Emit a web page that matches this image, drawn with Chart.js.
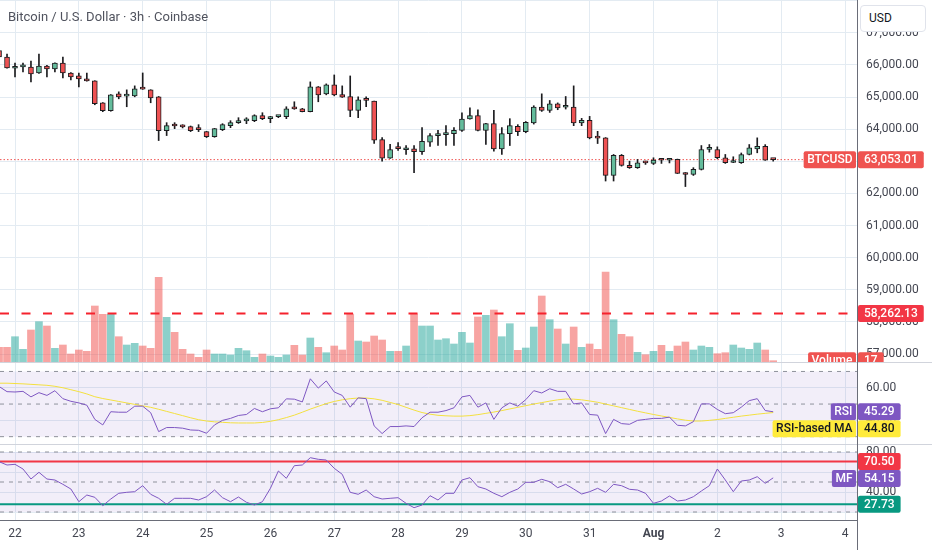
<!DOCTYPE html>
<html>
<head>
<meta charset="utf-8">
<script src="https://cdn.jsdelivr.net/npm/chart.js@4.4.1/dist/chart.umd.min.js"></script>
<style>
  html, body { margin: 0; padding: 0; background: #fff; }
  #wrap { position: relative; width: 932px; height: 550px; overflow: hidden; background: #fff; font-family: Roboto, sans-serif; }
  #wrap canvas { position: absolute; left: 0; }
  #title { position: absolute; left: 8px; top: 9px; font-size: 13px; color: #50535e; white-space: nowrap; }
  #usd { position: absolute; left: 860px; top: 5px; width: 66px; height: 27px; box-sizing: border-box; border: 1px solid #e0e3eb; border-radius: 4px; background: #fff; font-size: 12px; color: #131722; line-height: 25px; padding-left: 8px; }
</style>
</head>
<body>
<div id="wrap">
  <canvas id="main" width="932" height="362" style="top:0px"></canvas>
  <canvas id="rsi" width="932" height="82" style="top:362px"></canvas>
  <canvas id="mf" width="932" height="106" style="top:444px"></canvas>
  <div id="title">Bitcoin / U.S. Dollar · 3h · Coinbase</div>
  <div id="usd">USD</div>
</div>
<script>
// 3h bars, first one is 21 Jul 18:00, day ticks every 8 bars
var firstBar = -2;
var barsPerDay = 8;
var dayLabels = ['22', '23', '24', '25', '26', '27', '28', '29', '30', '31', 'Aug', '2', '3', '4'];

var open = [66450, 66248, 65900, 65940, 65938, 65752, 65969, 65876, 66062, 65752,
  65659, 65566, 65505, 64824, 64576, 65102, 65030, 65040, 65257, 65226,
  65009, 63957, 64111, 64080, 64080, 63990, 63926, 63771, 63988, 64111,
  64204, 64260, 64266, 64421, 64328, 64390, 64390, 64640, 64638, 64545,
  65319, 65102, 65381, 65081, 65019, 64585, 64905, 64876, 63678, 63099,
  63400, 63360, 63390, 63297, 63594, 63800, 63830, 63864, 63966, 64319,
  64421, 63966, 64173, 63390, 63864, 64090, 63926, 64195, 64690, 64585,
  64793, 64685, 64690, 64195, 64276, 63730, 63731, 62563, 63183, 62873,
  62802, 62957, 62935, 63040, 63035, 63059, 62640, 62590, 62749, 63370,
  63368, 63111, 62965, 62957, 63214, 63390, 63470, 63060];
var high = [66520, 66340, 66062, 66062, 66124, 66340, 65990, 66070, 66248, 65760,
  65752, 65752, 65510, 64830, 65080, 65164, 65226, 65350, 65752, 65230,
  65020, 64204, 64204, 64140, 64100, 64142, 63930, 64025, 64173, 64266,
  64359, 64359, 64450, 64514, 64400, 64420, 64700, 64855, 64650, 65474,
  65330, 65412, 65690, 65350, 65659, 65009, 65009, 64880, 63740, 63532,
  63585, 63492, 63492, 64050, 63864, 63966, 64111, 64050, 64514, 64669,
  64607, 64180, 64585, 64050, 64328, 64142, 64240, 64731, 65102, 64895,
  64820, 65019, 65350, 64338, 64400, 63935, 63740, 63214, 63214, 63006,
  63059, 63006, 63111, 63080, 63080, 63070, 62650, 62802, 63492, 63523,
  63451, 63214, 63142, 63260, 63523, 63731, 63520, 63080];
var low = [66200, 65900, 65628, 65783, 65474, 65740, 65628, 65783, 65597, 65536,
  65319, 65500, 64762, 64545, 64560, 64947, 64700, 65009, 65240, 64824,
  63647, 63802, 64018, 64040, 63926, 63926, 63740, 63750, 63957, 64049,
  64180, 64173, 64235, 64297, 64204, 64360, 64328, 64620, 64540, 64540,
  64855, 65071, 65040, 64990, 64390, 64359, 64700, 63554, 63006, 63090,
  63340, 63214, 62647, 63214, 63461, 63492, 63492, 63492, 63930, 64310,
  63946, 63523, 63316, 63214, 63492, 63802, 63890, 64160, 64554, 64523,
  64607, 64628, 64111, 64111, 63700, 63554, 62387, 62387, 62850, 62780,
  62780, 62904, 62900, 62935, 62950, 62620, 62214, 62560, 62730, 63285,
  63080, 62935, 62960, 62935, 63200, 63266, 63030, 63006];
var close = [66250, 65907, 65910, 65955, 65721, 65969, 65876, 66062, 65752, 65628,
  65566, 65505, 64793, 64576, 65071, 65009, 65040, 65257, 65250, 64978,
  63957, 64111, 64100, 64075, 63957, 63985, 63771, 64018, 64142, 64204,
  64266, 64266, 64421, 64328, 64390, 64395, 64638, 64635, 64545, 65319,
  65071, 65381, 65071, 65000, 64585, 64916, 64900, 63656, 63099, 63368,
  63395, 63380, 63297, 63625, 63802, 63805, 63835, 63966, 64319, 64421,
  63966, 64173, 63390, 63864, 64111, 63926, 64214, 64690, 64585, 64793,
  64660, 64690, 64195, 64276, 63731, 63725, 62563, 63183, 62873, 62802,
  62957, 62950, 63037, 63035, 63040, 62625, 62590, 62749, 63368, 63390,
  63111, 62957, 62975, 63214, 63421, 63470, 63037, 63053.01];
var volume = [191, 191, 329, 165, 416, 524, 468, 178, 221, 104,
  156, 139, 728, 620, 620, 329, 221, 243, 208, 178,
  1101, 581, 386, 165, 104, 61, 156, 104, 104, 91,
  178, 147, 61, 104, 78, 61, 91, 217, 91, 312,
  191, 121, 208, 156, 624, 273, 260, 338, 286, 139,
  139, 208, 624, 468, 468, 286, 303, 234, 386, 247,
  585, 607, 676, 329, 498, 152, 182, 455, 858, 550,
  429, 234, 455, 191, 234, 165, 1170, 550, 360, 329,
  126, 95, 139, 217, 139, 208, 260, 156, 208, 191,
  108, 121, 221, 182, 165, 247, 156, 17];
var rsi = [60.8, 57.6, 57.4, 57.8, 54.4, 57.0, 55.3, 58.2, 53.3, 51.7,
  50.7, 49.3, 40.6, 37.2, 45.3, 45.0, 45.0, 48.7, 48.7, 44.7,
  33.1, 35.6, 35.6, 35.2, 34.1, 33.9, 32.1, 37.2, 40.0, 41.2,
  43.0, 43.6, 47.3, 45.3, 47.1, 47.7, 53.2, 53.0, 51.3, 65.5,
  59.8, 64.2, 57.4, 55.3, 48.1, 53.8, 53.3, 36.6, 31.9, 36.2,
  36.2, 36.6, 36.2, 41.6, 45.0, 45.0, 46.0, 47.7, 54.4, 55.3,
  48.1, 50.7, 40.6, 47.7, 50.7, 48.7, 52.7, 58.2, 56.8, 59.4,
  57.8, 57.8, 50.1, 50.7, 43.6, 43.2, 31.9, 40.6, 38.0, 37.6,
  40.0, 40.6, 41.2, 41.2, 42.0, 37.0, 36.6, 39.2, 50.1, 50.1,
  46.7, 44.1, 44.7, 48.1, 52.1, 53.3, 46.0, 45.29];
var rsiMa = [62.8, 62.8, 62.6, 62.4, 62.1, 61.8, 61.5, 60.9, 60.0, 58.8,
  57.6, 56.2, 54.5, 53.4, 52.5, 51.6, 50.7, 49.8, 48.9, 48.0,
  46.8, 45.5, 44.2, 42.9, 41.6, 40.4, 39.6, 39.1, 38.8, 38.5,
  38.4, 38.4, 38.4, 38.7, 39.4, 40.4, 41.7, 43.2, 45.0, 46.9,
  48.6, 50.3, 51.6, 52.6, 53.3, 53.7, 53.7, 53.2, 52.3, 51.0,
  49.7, 48.0, 46.3, 44.8, 43.8, 43.1, 42.8, 42.6, 42.6, 42.9,
  43.5, 44.3, 45.1, 46.0, 47.0, 48.0, 49.0, 50.0, 50.9, 51.8,
  52.6, 53.1, 53.0, 52.6, 51.9, 51.1, 50.0, 48.9, 47.8, 46.7,
  45.6, 44.6, 43.6, 42.7, 41.8, 40.9, 40.1, 39.6, 39.6, 40.0,
  40.5, 41.2, 41.9, 42.6, 43.2, 43.8, 44.3, 44.8];
var mfi = [70.3, 67.0, 67.7, 63.0, 53.0, 59.7, 53.0, 52.0, 47.7, 43.0,
  30.3, 37.0, 34.7, 26.3, 33.0, 38.7, 39.7, 40.3, 46.3, 37.7,
  33.7, 27.7, 33.7, 33.7, 33.7, 32.0, 35.3, 42.0, 34.3, 30.3,
  35.0, 29.7, 27.0, 30.3, 43.7, 61.0, 53.7, 66.3, 67.0, 74.3,
  72.7, 72.0, 63.7, 57.7, 39.7, 37.7, 42.0, 35.3, 33.0, 33.7,
  34.3, 28.7, 24.3, 27.0, 36.3, 32.0, 38.7, 38.7, 52.0, 54.3,
  45.3, 43.0, 38.7, 35.3, 39.7, 43.0, 49.7, 49.7, 52.7, 50.3,
  44.3, 47.7, 43.0, 38.0, 40.3, 43.7, 39.7, 47.7, 46.3, 42.7,
  42.0, 38.7, 28.7, 31.0, 36.0, 31.0, 32.0, 35.3, 41.0, 46.3,
  63.0, 52.0, 40.3, 51.0, 52.0, 55.3, 48.7, 54.15];

var lastPrice = 63053.01;
var alertPrice = 58262.13;
var mfUpper = 70.50;
var mfLower = 27.73;
var priceTicks = [57000, 58000, 59000, 60000, 61000, 62000, 63000, 64000, 65000, 66000, 67000, 68000];
var rsiTicks = [40, 60];
var mfTicks = [20, 40, 60, 80];

var xMin = -1.88, xMax = 105.5;
var FONT = 'Roboto';
var GRID = '#e3ebf2';
var AXIS_TEXT = '#434651';
var UP = '#64bc9c', DOWN = '#ee5253';
var VOL_UP = 'rgba(38,166,154,0.53)', VOL_DOWN = 'rgba(239,83,80,0.53)';
var DASH_GREY = '#8f929b';

function fmt(v) { return v.toLocaleString('en-US', { minimumFractionDigits: 2, maximumFractionDigits: 2 }); }
function pts(arr) { return arr.map(function (v, i) { return { x: firstBar + i, y: v }; }); }
function level(v) { return [{ x: xMin, y: v }, { x: xMax, y: v }]; }
var isUp = close.map(function (c, i) { return c >= open[i]; });

function roundBox(ctx, x, y, w, h, fill) {
  var r = 2;
  ctx.fillStyle = fill;
  ctx.beginPath();
  ctx.moveTo(x + r, y);
  ctx.lineTo(x + w - r, y); ctx.quadraticCurveTo(x + w, y, x + w, y + r);
  ctx.lineTo(x + w, y + h - r); ctx.quadraticCurveTo(x + w, y + h, x + w - r, y + h);
  ctx.lineTo(x + r, y + h); ctx.quadraticCurveTo(x, y + h, x, y + h - r);
  ctx.lineTo(x, y + r); ctx.quadraticCurveTo(x, y, x + r, y);
  ctx.fill();
}

// pane separator, price-axis divider and the coloured value tags on the axis
var panePlugin = {
  id: 'pane',
  afterDraw: function (chart, args, opts) {
    var ctx = chart.ctx, a = chart.chartArea;
    ctx.save();
    if (opts.topLine) {
      ctx.strokeStyle = '#d1d4dc'; ctx.lineWidth = 1;
      ctx.beginPath(); ctx.moveTo(0, 0.5); ctx.lineTo(chart.width, 0.5); ctx.stroke();
    }
    ctx.strokeStyle = '#6a6d78'; ctx.lineWidth = 1;
    ctx.beginPath(); ctx.moveTo(a.right + 0.5, 0); ctx.lineTo(a.right + 0.5, chart.height); ctx.stroke();

    ctx.font = '500 12px ' + FONT;
    ctx.textBaseline = 'middle';
    ctx.textAlign = 'left';
    var lastY = -100;
    (opts.tags || []).forEach(function (t) {
      var y = chart.scales[t.axis || 'y'].getPixelForValue(t.value);
      if (y - lastY < 17) y = lastY + 17;
      lastY = y;
      var vw = ctx.measureText(t.text).width + 12;
      roundBox(ctx, a.right + 1, y - 8.5, vw, 17, t.color);
      ctx.fillStyle = t.textColor || '#fff';
      ctx.fillText(t.text, a.right + 7, y + 0.5);
      if (t.tag) {
        var tw = ctx.measureText(t.tag).width + 8;
        roundBox(ctx, a.right - tw, y - 8.5, tw - 1, 17, t.color);
        ctx.fillStyle = t.textColor || '#fff';
        ctx.fillText(t.tag, a.right - tw + 3.5, y + 0.5);
      }
    });
    ctx.restore();
  }
};

function xAxis(showLabels) {
  return {
    type: 'linear', min: xMin, max: xMax, offset: false,
    afterBuildTicks: function (s) { s.ticks = dayLabels.map(function (d, i) { return { value: i * barsPerDay }; }); },
    afterFit: function (s) { s.height = showLabels ? 30 : 0; s.paddingLeft = 0; s.paddingRight = 0; },
    grid: { color: GRID, drawTicks: false, offset: false },
    border: { display: showLabels, color: '#6a6d78' },
    ticks: {
      display: showLabels, padding: 7, color: AXIS_TEXT, maxRotation: 0, autoSkip: false,
      font: function (c) { return { family: FONT, size: 12, weight: (c.tick && c.tick.value === 80) ? 'bold' : 'normal' }; },
      callback: function (v) { return dayLabels[Math.round(v / barsPerDay)]; }
    }
  };
}

function yAxis(min, max, ticks, hidden) {
  return {
    position: 'right', min: min, max: max,
    afterBuildTicks: function (s) { s.ticks = ticks.map(function (v) { return { value: v }; }); },
    afterFit: function (s) { s.width = 75; s.paddingTop = 0; s.paddingBottom = 0; },
    grid: { color: GRID, drawTicks: false },
    border: { display: false },
    ticks: {
      padding: 9, color: AXIS_TEXT, font: { family: FONT, size: 12 },
      callback: function (v) { return hidden.indexOf(v) >= 0 ? '' : fmt(v); }
    }
  };
}

function baseOptions(scales, pane) {
  return {
    responsive: false, animation: false, events: [],
    layout: { padding: 0 },
    plugins: { legend: { display: false }, tooltip: { enabled: false }, pane: pane },
    scales: scales
  };
}

function flatLine(v, extra) {
  var d = { type: 'line', data: level(v), borderColor: DASH_GREY, borderWidth: 1, borderDash: [4, 5], pointRadius: 0, fill: false };
  for (var k in extra) d[k] = extra[k];
  return d;
}

// price + volume
new Chart(document.getElementById('main'), {
  type: 'bar',
  data: {
    datasets: [
      { type: 'bar', yAxisID: 'yv', grouped: false, order: 6, barThickness: 7,
        data: pts(volume), backgroundColor: isUp.map(function (u) { return u ? VOL_UP : VOL_DOWN; }) },
      { type: 'line', order: 5, data: level(alertPrice), borderColor: '#f5222d', borderWidth: 2, borderDash: [9, 12.5], pointRadius: 0 },
      { type: 'line', order: 4, data: level(lastPrice), borderColor: '#ef5350', borderWidth: 1, borderDash: [1.5, 2], pointRadius: 0 },
      { type: 'bar', grouped: false, order: 2, barThickness: 1, backgroundColor: '#1c1c1f',
        data: high.map(function (h, i) { return { x: firstBar + i, y: [low[i], h] }; }) },
      { type: 'bar', grouped: false, order: 1, barThickness: 5, minBarLength: 2,
        borderWidth: 1, borderColor: '#1c1c1f', borderSkipped: false,
        backgroundColor: isUp.map(function (u) { return u ? UP : DOWN; }),
        data: open.map(function (o, i) { return { x: firstBar + i, y: [o, close[i]] }; }) }
    ]
  },
  options: baseOptions({
    x: xAxis(false),
    y: yAxis(56751, 68024, priceTicks, [68000]),
    yv: { display: false, min: 0, max: 4706 }
  }, {
    topLine: false,
    tags: [
      { value: lastPrice, text: fmt(lastPrice), tag: 'BTCUSD', color: '#ef5350' },
      { value: alertPrice, text: fmt(alertPrice), color: '#f23645' },
      { axis: 'yv', value: volume[volume.length - 1], text: String(volume[volume.length - 1]), tag: 'Volume', color: '#ef5350' }
    ]
  }),
  plugins: [panePlugin]
});

// RSI pane
new Chart(document.getElementById('rsi'), {
  type: 'line',
  data: {
    datasets: [
      { order: 1, data: pts(rsi), borderColor: '#7e57c2', borderWidth: 1, pointRadius: 0 },
      { order: 2, data: pts(rsiMa), borderColor: '#f3e03f', borderWidth: 1, pointRadius: 0 },
      flatLine(50, { order: 3 }),
      flatLine(30, { order: 4 }),
      flatLine(70, { order: 5, fill: { value: 30 }, backgroundColor: 'rgba(126,87,194,0.1)' })
    ]
  },
  options: baseOptions({
    x: xAxis(false),
    y: yAxis(25.5, 75.8, rsiTicks, [])
  }, {
    topLine: true,
    tags: [
      { value: rsi[rsi.length - 1], text: fmt(rsi[rsi.length - 1]), tag: 'RSI', color: '#7e57c2' },
      { value: rsiMa[rsiMa.length - 1], text: fmt(rsiMa[rsiMa.length - 1]), tag: 'RSI-based MA', color: '#ffeb3b', textColor: '#131722' }
    ]
  }),
  plugins: [panePlugin]
});

// Money flow pane
new Chart(document.getElementById('mf'), {
  type: 'line',
  data: {
    datasets: [
      { order: 1, data: pts(mfi), borderColor: '#7e57c2', borderWidth: 1, pointRadius: 0 },
      { order: 2, data: level(mfUpper), borderColor: '#f23645', borderWidth: 2, pointRadius: 0 },
      { order: 2, data: level(mfLower), borderColor: '#089981', borderWidth: 2, pointRadius: 0 },
      flatLine(50, { order: 3 }),
      flatLine(20, { order: 4 }),
      flatLine(80, { order: 5, fill: { value: 20 }, backgroundColor: 'rgba(126,87,194,0.1)' })
    ]
  },
  options: baseOptions({
    x: xAxis(true),
    y: yAxis(12, 88, mfTicks, [20])
  }, {
    topLine: true,
    tags: [
      { value: mfUpper, text: fmt(mfUpper), color: '#f23645' },
      { value: mfi[mfi.length - 1], text: fmt(mfi[mfi.length - 1]), tag: 'MF', color: '#7e57c2' },
      { value: mfLower, text: fmt(mfLower), color: '#089981' }
    ]
  }),
  plugins: [panePlugin]
});
</script>
</body>
</html>
